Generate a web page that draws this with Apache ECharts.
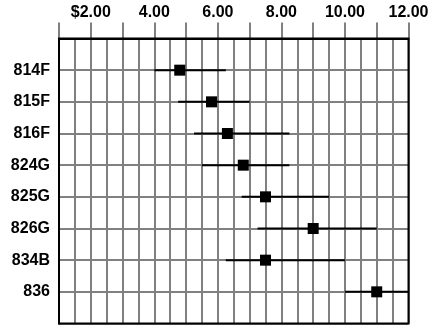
<!DOCTYPE html>
<html>
<head>
<meta charset="utf-8">
<script src="https://cdn.jsdelivr.net/npm/echarts@6/dist/echarts.min.js"></script>
<style>html,body{margin:0;padding:0;background:#fff}#c{width:438px;height:326px}</style>
</head>
<body>
<div id="c"></div>
<script>
const categories = ['814F', '815F', '816F', '824G', '825G', '826G', '834B', '836'];
const lowValues  = [4.0, 4.75, 5.25, 5.5, 6.75, 7.25, 6.25, 10.0];
const midValues  = [4.8, 5.8, 6.3, 6.8, 7.5, 9.0, 7.5, 11.0];
const highValues = [6.25, 7.0, 8.25, 8.25, 9.5, 11.0, 10.0, 12.0];
const xTickLabels = {2: '$2.00', 4: '4.00', 6: '6.00', 8: '8.00', 10: '10.00', 12: '12.00'};

const yCats = [''].concat(categories, ['']);
const rangeData = categories.map((c, i) => [lowValues[i], highValues[i], c]);
const midData = categories.map((c, i) => [midValues[i], c]);

const chart = echarts.init(document.getElementById('c'), null, {renderer: 'canvas'});
chart.setOption({
  animation: false,
  backgroundColor: '#fff',
  grid: {left: 59, right: 29.5, top: 38.5, bottom: 2.5, show: true, borderColor: '#000', borderWidth: 2, z: 5},
  xAxis: {
    type: 'value', position: 'top', min: 1, max: 12, interval: 1,
    axisLine: {show: true, lineStyle: {color: '#000', width: 2}},
    axisTick: {show: true, inside: false, length: 16, lineStyle: {color: '#808080', width: 2}},
    axisLabel: {
      show: true, margin: 18, fontFamily: 'Arial', fontWeight: 'bold', fontSize: 16, color: '#000',
      formatter: v => xTickLabels[Math.round(v)] || ''
    },
    splitLine: {show: true, lineStyle: {color: '#808080', width: 2}},
    minorTick: {show: false, splitNumber: 2},
    minorSplitLine: {show: true, lineStyle: {color: '#808080', width: 2}}
  },
  yAxis: {
    type: 'category', data: yCats, inverse: true, boundaryGap: false,
    axisLine: {show: true, lineStyle: {color: '#000', width: 2}},
    axisTick: {show: false},
    axisLabel: {show: true, margin: 9, fontFamily: 'Arial', fontWeight: 'bold', fontSize: 16, color: '#000', interval: 0},
    splitLine: {show: true, interval: 0, lineStyle: {color: '#808080', width: 2}}
  },
  series: [
    {
      type: 'custom',
      data: rangeData,
      encode: {x: [0, 1], y: 2},
      renderItem: function (params, api) {
        const p1 = api.coord([api.value(0), api.value(2)]);
        const p2 = api.coord([api.value(1), api.value(2)]);
        return {type: 'line', shape: {x1: p1[0], y1: p1[1], x2: p2[0], y2: p2[1]}, style: {stroke: '#000', lineWidth: 2}};
      },
      z: 3
    },
    {
      type: 'scatter',
      data: midData,
      symbol: 'rect', symbolSize: 11,
      itemStyle: {color: '#000', opacity: 1},
      z: 4
    }
  ]
});
</script>
</body>
</html>
